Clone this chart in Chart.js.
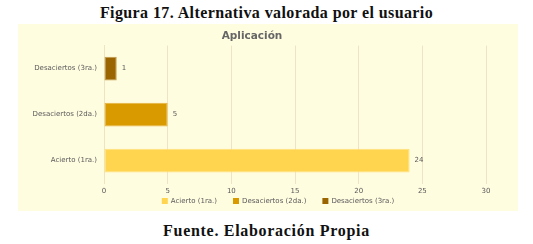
<!DOCTYPE html>
<html><head><meta charset="utf-8">
<script src="https://cdn.jsdelivr.net/npm/chart.js@4/dist/chart.umd.min.js"></script>
<style>
html,body{margin:0;padding:0;background:#fff;width:533px;height:244px;overflow:hidden;position:relative}
.cap{position:absolute;left:0;width:533px;text-align:center;font-family:"Liberation Serif","DejaVu Serif",serif;font-weight:bold;color:#111;font-size:16px;line-height:18px;letter-spacing:0.4px}
#t1{top:4px}
#t2{top:222px;letter-spacing:0.7px}
#wrap{position:absolute;left:18px;top:24px;width:500px;height:187px;background:#FFFDE0}
canvas{display:block}
</style></head><body>
<div class="cap" id="t1">Figura 17. Alternativa valorada por el usuario</div>
<div id="wrap"><canvas id="c" width="500" height="187" style="width:500px;height:187px"></canvas></div>
<div class="cap" id="t2">Fuente. Elaboración Propia</div>
<script>
const categories = ['Acierto (1ra.)', 'Desaciertos (2da.)', 'Desaciertos (3ra.)'];
const values = [24, 5, 1];
const colors = ['#FFD54F', '#D99A00', '#9A6500'];
const edgeColors = ['#FFE07A', '#E6B240', '#C29A4A'];
const xTicks = [0, 5, 10, 15, 20, 25, 30];
const chartTitle = 'Aplicación';

const FONT = '"DejaVu Sans", sans-serif';

const valueLabels = {
  id: 'valueLabels',
  afterDatasetsDraw(chart) {
    const ctx = chart.ctx;
    const meta = chart.getDatasetMeta(0);
    ctx.save();
    ctx.font = '7px ' + FONT;
    ctx.fillStyle = '#595959';
    ctx.textAlign = 'left';
    ctx.textBaseline = 'middle';
    meta.data.forEach((bar, i) => {
      ctx.fillText(String(values[i]), bar.x + 5, bar.y);
    });
    ctx.restore();
  }
};

const customLegend = {
  id: 'customLegend',
  afterDraw(chart) {
    const ctx = chart.ctx;
    ctx.save();
    ctx.font = '7px ' + FONT;
    const box = 6, gapBox = 3, gapItem = 16;
    const widths = categories.map(c => box + gapBox + ctx.measureText(c).width);
    const total = widths.reduce((a, b) => a + b, 0) + gapItem * (categories.length - 1);
    let x = (chart.width - total) / 2 + 10;
    const y = 177;
    ctx.textBaseline = 'middle';
    ctx.textAlign = 'left';
    categories.forEach((c, i) => {
      ctx.fillStyle = colors[i];
      ctx.fillRect(x, y - box / 2, box, box);
      ctx.fillStyle = '#595959';
      ctx.fillText(c, x + box + gapBox, y);
      x += widths[i] + gapItem;
    });
    ctx.restore();
  }
};

new Chart(document.getElementById('c'), {
  type: 'bar',
  data: {
    labels: categories,
    datasets: [{
      data: values,
      backgroundColor: colors,
      borderColor: edgeColors,
      borderWidth: 1,
      borderSkipped: false,
      categoryPercentage: 1,
      barPercentage: 0.52
    }]
  },
  plugins: [valueLabels, customLegend],
  options: {
    indexAxis: 'y',
    responsive: false,
    animation: false,
    devicePixelRatio: 1,
    layout: { padding: { left: 0, right: 32, top: 0, bottom: 13 } },
    scales: {
      x: {
        min: 0, max: 30,
        afterBuildTicks(s) { s.ticks = xTicks.map(v => ({ value: v })); },
        grid: { color: '#EEE4C4', lineWidth: 1, drawTicks: false },
        border: { display: false },
        ticks: { padding: 3, color: '#595959', font: { size: 7, family: FONT } }
      },
      y: {
        reverse: true,
        grid: { display: false, drawTicks: false },
        border: { display: true, color: '#EEE4C4' },
        afterFit(s) { s.width = 86; },
        ticks: { padding: 7, color: '#595959', font: { size: 7, family: FONT } }
      }
    },
    plugins: {
      title: {
        display: true, text: chartTitle, color: '#666666',
        font: { size: 10.5, weight: 'bold', family: FONT },
        padding: { top: 6, bottom: 3 }
      },
      legend: { display: false },
      tooltip: { enabled: false }
    }
  }
});
</script>
</body></html>
